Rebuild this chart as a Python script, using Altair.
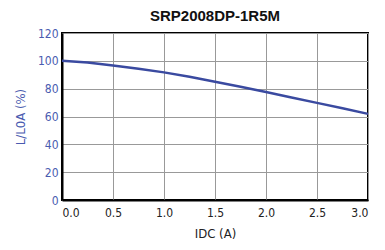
import altair as alt
import pandas as pd

idc = [0.0, 0.25, 0.5, 0.75, 1.0, 1.25, 1.5, 1.75, 2.0, 2.25, 2.5, 2.75, 3.0]
ratio = [100.0, 98.8, 96.7, 94.3, 91.7, 88.6, 85.0, 81.4, 77.6, 73.7, 69.8, 65.9, 61.9]

df = pd.DataFrame({"IDC": idc, "L": ratio})

blue_text = "#4a5bb0"
font = "DejaVu Sans Condensed, Liberation Sans, sans-serif"

chart = alt.Chart(df).mark_line(color="#3a4aa0", strokeWidth=2.5).encode(
    x=alt.X("IDC:Q", scale=alt.Scale(domain=[0, 3], nice=False),
            axis=alt.Axis(title="IDC (A)", values=[0, 0.5, 1, 1.5, 2, 2.5, 3], format=".1f",
                          labelColor="#222222", titleColor="#222222", labelFont=font, titleFont=font,
                          labelFontSize=12, titleFontSize=13, titleFontWeight="normal",
                          tickSize=0, labelPadding=7, titlePadding=9, gridColor="#999999",
                          domainColor="black", domainWidth=2)),
    y=alt.Y("L:Q", scale=alt.Scale(domain=[0, 120], nice=False),
            axis=alt.Axis(title="L/L0A (%)", values=[0, 20, 40, 60, 80, 100, 120],
                          labelColor=blue_text, titleColor=blue_text, labelFont=font, titleFont=font,
                          labelFontSize=12, titleFontSize=13, titleFontWeight="normal",
                          tickSize=0, labelPadding=4, titlePadding=10, gridColor="#999999",
                          domainColor="black", domainWidth=2)),
).properties(
    width=306, height=167,
    title=alt.TitleParams("SRP2008DP-1R5M", fontSize=15, fontWeight="bold", font="Liberation Sans",
                          color="#111111", anchor="middle", offset=3),
    autosize=alt.AutoSizeParams(type="none"),
    padding={"left": 54, "top": 25, "right": 9, "bottom": 42},
).configure_view(stroke="black", strokeWidth=2)

chart.save("out.html", embed_options={"renderer": "svg", "actions": False})
